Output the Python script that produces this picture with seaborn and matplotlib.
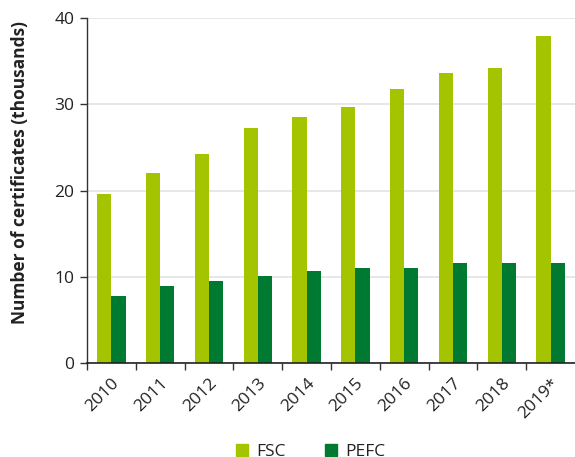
import matplotlib
matplotlib.use("Agg")
import matplotlib.pyplot as plt
import seaborn as sns
import pandas as pd
import numpy as np
from matplotlib.lines import Line2D

years = ["2010", "2011", "2012", "2013", "2014", "2015", "2016", "2017", "2018", "2019*"]
fsc = [19.6, 22.0, 24.3, 27.3, 28.5, 29.7, 31.8, 33.6, 34.2, 38.0]
pefc = [7.8, 8.9, 9.5, 10.1, 10.7, 11.0, 11.0, 11.6, 11.6, 11.6]
series = ["FSC", "PEFC"]
colors = {"FSC": "#a5c400", "PEFC": "#007a30"}

df = pd.DataFrame({
    "year": years * 2,
    "value": fsc + pefc,
    "series": ["FSC"] * len(years) + ["PEFC"] * len(years),
})

sns.set_style("white")
plt.rcParams["font.family"] = ["Open Sans", "DejaVu Sans"]

fig = plt.figure(figsize=(5.75, 4.57), dpi=100)
ax = fig.add_axes([87 / 575, 1 - 363 / 457, (575 - 87) / 575, (363 - 18.3) / 457])

sns.barplot(data=df, x="year", y="value", hue="series", palette=colors,
            width=0.58, saturation=1, ax=ax, legend=False, zorder=2,
            linewidth=0, edgecolor="none", gap=0)

ax.set_ylim(0, 40)
ax.set_xlim(-0.5, len(years) - 0.5)
ax.set_yticks([0, 10, 20, 30, 40])
ax.yaxis.grid(True, color="#e3e3e3", linewidth=1.2, zorder=0)
ax.xaxis.grid(False)
ax.set_axisbelow(True)
for s in ["top", "right"]:
    ax.spines[s].set_visible(False)
ax.spines["left"].set_color("#333333")
ax.spines["bottom"].set_color("#222222")
ax.spines["left"].set_linewidth(1.0)
ax.spines["bottom"].set_linewidth(1.2)
ax.spines["bottom"].set_zorder(5)
ax.spines["left"].set_zorder(5)

ax.tick_params(axis="y", direction="out", length=5, width=1, color="#333333",
               labelsize=12.5, labelcolor="#222222", left=True, pad=4)
ax.set_xticks(np.arange(len(years)))
ax.set_xticklabels(years, rotation=45, ha="right", rotation_mode="anchor",
                   fontsize=12.5, color="#222222")
ax.tick_params(axis="x", which="major", length=0, pad=9)
ax.set_xticks(np.arange(len(years)) - 0.5, minor=True)
ax.tick_params(axis="x", which="minor", direction="out", length=5, width=1,
               color="#333333", bottom=True)

ax.set_xlabel("")
ax.set_ylabel("Number of certificates (thousands)", fontsize=12.5,
              fontweight="bold", color="#222222")
ax.yaxis.set_label_coords(-0.118, 0.553)

handles = [Line2D([], [], marker="s", linestyle="none", markersize=8,
                  markerfacecolor=colors[s], markeredgecolor=colors[s]) for s in series]
fig.legend(handles, series, loc="lower center", bbox_to_anchor=(0.538, -0.04),
           ncol=2, frameon=False, fontsize=12.5, handlelength=1.0,
           handletextpad=0.3, columnspacing=2.15, labelcolor="#222222")

fig.savefig("out.png", dpi=100)
